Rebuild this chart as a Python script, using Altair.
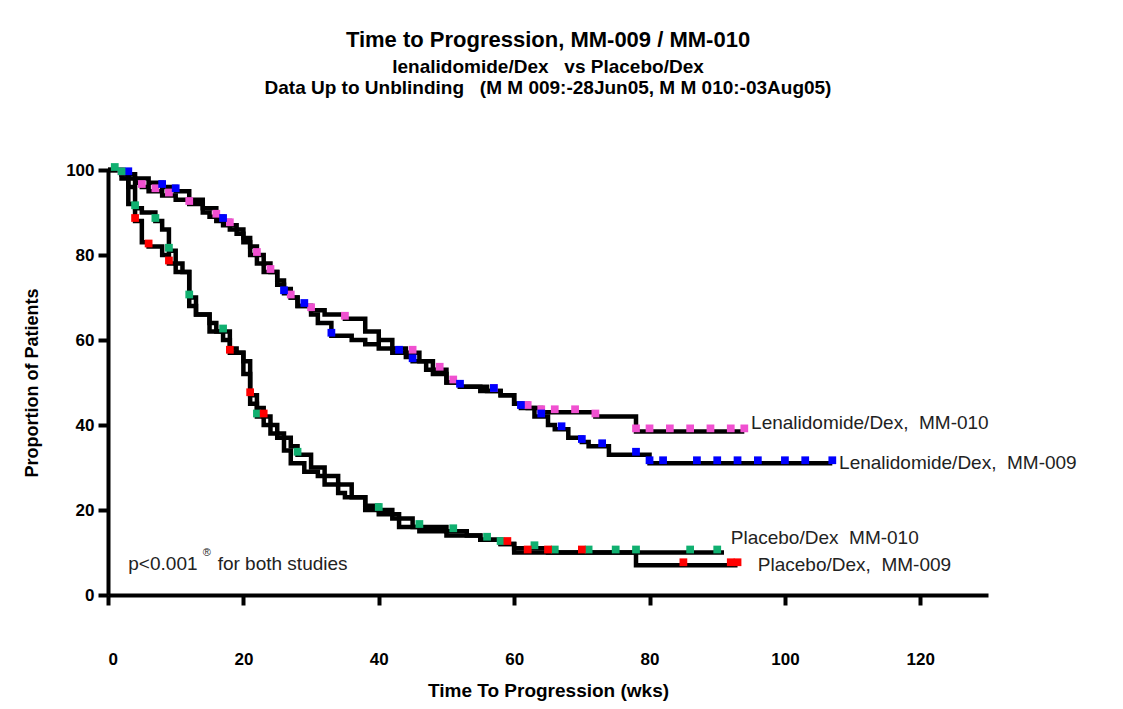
import altair as alt
import pandas as pd
import numpy as np

# step curves (weeks, % progression-free)
len010_t = [0, 2, 3, 4, 5, 6, 8, 10, 12, 14, 15, 17, 19, 20, 21, 22, 23, 24, 25, 26, 27, 28, 30, 32, 35, 38, 40, 42, 44, 46, 48, 50, 52, 55, 58, 60, 62, 64, 67, 72, 78, 94]
len010_s = [100, 99, 98, 97, 96, 95, 94, 93, 92, 90, 89, 87, 85, 84, 82, 80, 78, 76, 74, 72, 70, 68, 67, 66, 65, 62, 60, 58, 57, 55, 53, 50, 49, 48, 47, 45, 44, 43, 43, 42, 38.5, 38.5]
len009_t = [0, 2, 4, 6, 8, 10, 12, 14, 16, 18, 20, 21, 22, 23, 25, 26, 27, 28, 30, 31, 33, 36, 38, 40, 42, 44, 45, 47, 48, 50, 52, 56, 58, 60, 61, 63, 65, 66, 68, 70, 71, 74, 79, 80, 107]
len009_s = [100, 99, 98, 97, 96, 95, 93, 91, 88, 86, 83, 80, 78, 76, 73, 71, 70, 68, 66, 64, 61, 60, 59, 58, 57, 56, 55, 53, 52, 50, 49, 48, 47, 45, 44, 42, 40, 39, 37, 36, 35, 33, 33, 31, 31]
pla010_t = [0, 2, 3, 4, 5, 7, 8, 9, 10, 11, 12, 13, 15, 16, 18, 19, 20, 21, 22, 23, 24, 25, 27, 28, 30, 32, 34, 35, 38, 40, 42, 45, 50, 53, 55, 58, 60, 65, 91]
pla010_s = [100, 99, 96, 91, 90, 88, 86, 81, 78, 76, 70, 66, 64, 62, 58, 57, 52, 45, 42, 40, 38, 37, 35, 33, 30, 26, 24, 23, 21, 20, 18, 16, 15, 14, 13, 12, 11, 10, 10]
pla009_t = [0, 2, 3, 4, 5, 6, 8, 9, 10, 12, 13, 15, 17, 18, 20, 21, 22, 23, 24, 25, 26, 27, 29, 31, 34, 36, 38, 40, 43, 46, 50, 55, 58, 60, 78, 93]
pla009_s = [100, 98, 92, 88, 83, 82, 80, 78, 76, 68, 66, 62, 60, 57, 55, 47, 44, 42, 40, 38, 34, 31, 29, 28, 26, 23, 20, 19, 16, 15, 14, 13, 12, 10, 7, 7]

# censoring times
len010_c = [2, 5, 7, 9, 12, 16, 18, 22, 24, 27, 30, 35, 45, 49, 51, 57, 62, 64, 66, 69, 72, 78, 80, 83, 86, 89, 92, 94]
len009_c = [3, 8, 10, 17, 26, 29, 33, 43, 45, 52, 57, 61, 64, 67, 70, 73, 78, 80, 82, 87, 90, 93, 96, 100, 103, 107]
pla010_c = [1, 2, 4, 7, 9, 12, 17, 22, 28, 40, 46, 51, 56, 58, 63, 66, 71, 75, 78, 86, 90]
pla009_c = [4, 6, 9, 18, 21, 23, 59, 62, 65, 70, 85, 92, 93]

series = [
    ("Len010", len010_t, len010_s, len010_c, "#f050d0"),
    ("Len009", len009_t, len009_s, len009_c, "#0000ff"),
    ("Pla010", pla010_t, pla010_s, pla010_c, "#10b070"),
    ("Pla009", pla009_t, pla009_s, pla009_c, "#ff0000"),
]

lines = []
marks = []
for name, t, s, c, col in series:
    lines.append(pd.DataFrame({"name": name, "t": t, "s": s}))
    idx = np.searchsorted(t, c, side="right") - 1
    marks.append(pd.DataFrame({"name": name, "t": c, "s": np.array(s)[idx], "col": col}))
lines_df = pd.concat(lines)
marks_df = pd.concat(marks)

xs = alt.Scale(domain=[0, 130], nice=False)
ys = alt.Scale(domain=[0, 100], nice=False)

x_axis = alt.Axis(values=[0, 20, 40, 60, 80, 100, 120], title="Time To Progression  (wks)",
                  labelPadding=46, titlePadding=14, domainWidth=4, tickWidth=4, tickSize=10,
                  domainColor="black", tickColor="black", grid=False, labelFontWeight="bold",
                  labelFontSize=17, titleFontSize=19, titleFontWeight="bold", labelColor="black")
y_axis = alt.Axis(values=[0, 20, 40, 60, 80, 100], title="Proportion  of  Patients",
                  labelPadding=4, titlePadding=24, domainWidth=4, tickWidth=4, tickSize=10,
                  domainColor="black", tickColor="black", grid=False, labelFontWeight="bold",
                  labelFontSize=17, titleFontSize=18, titleFontWeight="bold", labelColor="black")

line_layer = alt.Chart(lines_df).mark_line(interpolate="step-after", color="black", strokeWidth=4.5).encode(
    x=alt.X("t:Q", scale=xs, axis=x_axis),
    y=alt.Y("s:Q", scale=ys, axis=y_axis),
    detail="name:N",
)

mark_layer = alt.Chart(marks_df).mark_square(size=60, opacity=1, yOffset=-3).encode(
    x=alt.X("t:Q", scale=xs),
    y=alt.Y("s:Q", scale=ys),
    color=alt.Color("col:N", scale=None),
)

NB = "\u00a0"
lab_t = [95, 108, 92, 96, 3, 16.2]
lab_s = [40.5, 31, 13.5, 7, 7.2, 7.2]
lab_txt = ["Lenalidomide/Dex," + NB * 2 + "MM-010", "Lenalidomide/Dex," + NB * 2 + "MM-009",
           "Placebo/Dex" + NB * 2 + "MM-010", "Placebo/Dex," + NB * 2 + "MM-009",
           "p<0.001", "for both studies"]
labels = alt.Chart(pd.DataFrame({"t": lab_t, "s": lab_s, "txt": lab_txt})).mark_text(
    align="left", fontSize=19, font="Liberation Sans", color="#222"
).encode(x=alt.X("t:Q", scale=xs), y=alt.Y("s:Q", scale=ys), text="txt:N")

sup = alt.Chart(pd.DataFrame({"t": [14.0], "s": [10.0]})).mark_text(
    align="left", fontSize=11, color="#222", text="®"
).encode(x=alt.X("t:Q", scale=xs), y=alt.Y("s:Q", scale=ys))

chart = (line_layer + mark_layer + labels + sup).properties(
    width=880, height=425,
    padding={"left": 100, "top": 162, "right": 120, "bottom": 110},
    autosize=alt.AutoSizeParams(type="none"),
    title=alt.TitleParams(
        text="Time to Progression, MM-009 / MM-010",
        subtitle=["lenalidomide/Dex" + NB * 3 + "vs Placebo/Dex",
                  "Data Up to Unblinding" + NB * 3 + "(M M 009:-28Jun05, M M 010:-03Aug05)"],
        fontSize=22, subtitleFontSize=19, fontWeight="bold", subtitleFontWeight="bold",
        color="black", subtitleColor="black", anchor="middle", offset=62,
        font="Liberation Sans", subtitleFont="Liberation Sans", subtitlePadding=6,
    ),
).configure_view(stroke=None).configure_axis(labelFont="Liberation Sans", titleFont="Liberation Sans")

chart.save("out.html", embed_options={"renderer": "svg", "actions": False})
